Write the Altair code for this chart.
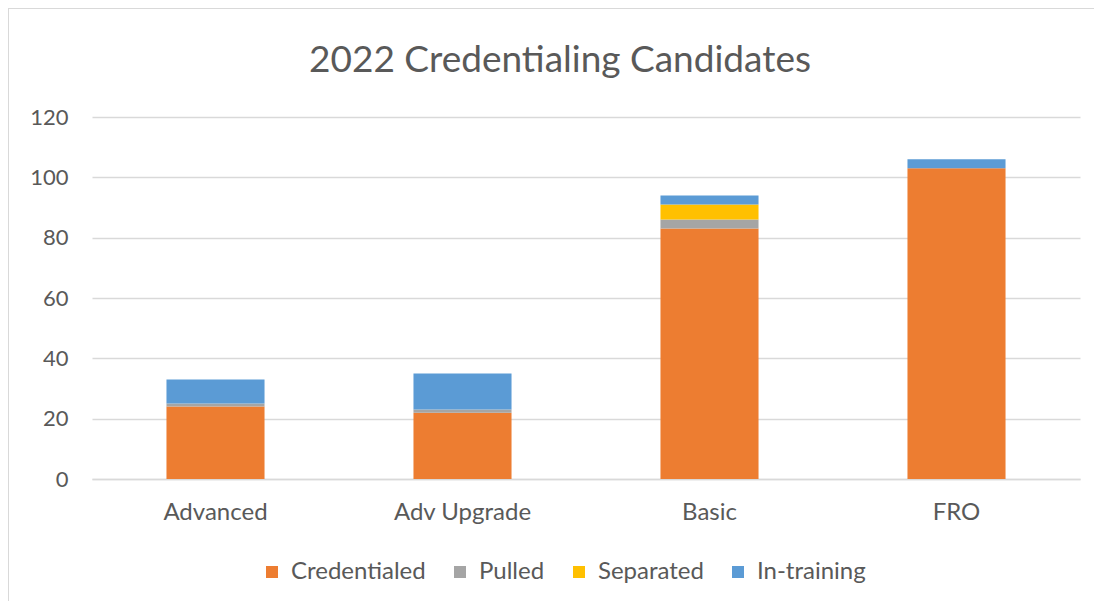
import altair as alt
import pandas as pd

categories = ["Advanced", "Adv Upgrade", "Basic", "FRO"]
series = ["Credentialed", "Pulled", "Separated", "In-training"]
colors = ["#ED7D31", "#A5A5A5", "#FFC000", "#5B9BD5"]
credentialed = [24, 22, 83, 103]
pulled = [1, 1, 3, 0]
separated = [0, 0, 5, 0]
in_training = [8, 12, 3, 3]
title_text = "2022 Credentialing Candidates"

values = [credentialed, pulled, separated, in_training]
rows = []
for si, (s, vals) in enumerate(zip(series, values)):
    for c, v in zip(categories, vals):
        rows.append({"Category": c, "Series": s, "Value": v, "idx": si})
df = pd.DataFrame(rows)
single = pd.DataFrame({"t": [title_text]})

font = "Lato"
label_color = "#595959"
border = "#d9d9d9"

bars = alt.Chart(df).mark_bar().encode(
    x=alt.X("Category:N", sort=categories,
            scale=alt.Scale(paddingInner=0.603, paddingOuter=0.3015),
            axis=alt.Axis(title=None, labelAngle=0, labelFontSize=24, labelColor=label_color,
                          labelFont=font, ticks=False, domainColor=border, domainWidth=1.5,
                          labelPadding=21, grid=False)),
    y=alt.Y("Value:Q", stack="zero",
            scale=alt.Scale(domain=[0, 120]),
            axis=alt.Axis(title=None, values=[0, 20, 40, 60, 80, 100, 120], labelFontSize=22,
                          labelColor=label_color, labelFont=font, ticks=False, domain=False,
                          gridColor=border, gridWidth=1.5, labelPadding=24)),
    color=alt.Color("Series:N", sort=series,
                    scale=alt.Scale(domain=series, range=colors),
                    legend=alt.Legend(title=None, orient="none", direction="horizontal",
                                      legendX=168, legendY=443, symbolType="square",
                                      symbolSize=144, symbolStrokeWidth=0, labelFontSize=24,
                                      labelColor=label_color, labelFont=font,
                                      columnPadding=22, labelOffset=7)),
    order=alt.Order("idx:Q", sort="ascending"),
)

left_edge = alt.Chart(single).mark_rule(color=border, strokeWidth=2).encode(
    x=alt.value(-84), y=alt.value(-109), y2=alt.value(700)
)
top_edge = alt.Chart(single).mark_rule(color=border, strokeWidth=2).encode(
    x=alt.value(-84), x2=alt.value(1200), y=alt.value(-109)
)

title = alt.Chart(single).mark_text(
    font=font, fontSize=37, color=label_color, align="center", baseline="alphabetic"
).encode(
    x=alt.value(468), y=alt.value(-45), text="t:N"
)

chart = alt.layer(left_edge, top_edge, bars, title).properties(
    width=988, height=362,
    autosize=alt.AutoSizeParams(type="none"),
    padding={"left": 84, "top": 109, "right": 14, "bottom": 122},
).configure_view(stroke=None)

chart.save("out.html", embed_options={"renderer": "svg", "actions": False})
